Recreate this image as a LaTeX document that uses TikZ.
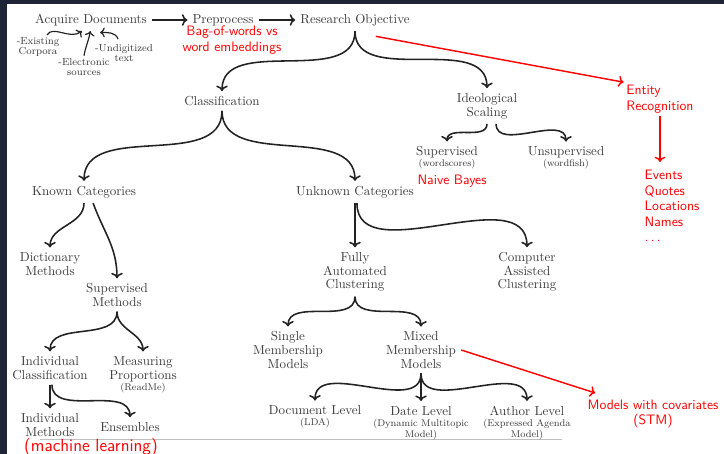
\documentclass[tikz,border=0pt]{standalone}
\usepackage{fontspec}
\usepackage{tikz}
\usetikzlibrary{positioning, arrows.meta, calc}

\definecolor{framenavy}{RGB}{31,36,55}
\definecolor{textgray}{RGB}{60,60,60}
\definecolor{arrowgray}{RGB}{35,35,35}
\definecolor{notered}{RGB}{255,0,0}

\newcommand{\subnote}{\fontsize{7.5}{9}\selectfont}

\begin{document}
\begin{tikzpicture}[
        x=0.027cm, y=0.027cm,
        % Define styles for the nodes
        topic/.style={text=textgray, align=center, inner sep=2pt, outer sep=2pt, font=\fontsize{10}{10.5}\selectfont},
        source_note/.style={topic, inner sep=1pt, outer sep=1pt, font=\fontsize{7.8}{7.8}\selectfont},
        red_note/.style={text=notered, inner sep=2pt, font=\sffamily\fontsize{10.5}{12}\selectfont},
        arrow/.style={->, line width=1.2pt, draw=arrowgray},
        thin_arrow/.style={->, line width=0.9pt, draw=arrowgray},
        red_arrow/.style={->, line width=1.1pt, draw=notered}
    ]

    % slide frame and footer rule
    \useasboundingbox (0,0) rectangle (724,-454);
    \fill[framenavy] (0,0) rectangle (724,-454);
    \fill[white] (7,-4) rectangle (724,-454);
    \draw[black!25, line width=0.6pt] (40,-439) -- (562,-439);

    % ==============================================
    % === TOP ROW (Acquire -> Objective) ===
    % ==============================================
    \node (acquire) [topic] at (91,-20) {Acquire Documents};
    \node (preprocess) [topic] at (223,-20) {Preprocess};
    \node (objective) [topic] at (355,-20) {Research Objective};
    \draw [arrow] (acquire) -- (preprocess);
    \draw [arrow] (preprocess) -- (objective);

    \node (bag_of_words) [red_note, align=center] at (232,-40) {Bag-of-words vs\\word embeddings};

    % Sources feeding the documents
    \node (existing) [source_note] at (38,-47) {-Existing\\Corpora};
    \node (electronic) [source_note] at (84,-67) {-Electronic\\sources};
    \node (undigitized) [source_note] at (124,-53) {-Undigitized\\text};
    \draw [thin_arrow] ([xshift=7pt]existing.north) .. controls +(6,10) and +(-12,-9) .. ([xshift=-7pt]acquire.south);
    \draw [thin_arrow] (electronic.north) to[out=80, in=-100] ([xshift=-0.5pt]acquire.south);
    \draw [thin_arrow] ([xshift=-4.5pt, yshift=2pt]undigitized.north) to[out=110, in=0] ([xshift=7pt, yshift=-1pt]acquire.south);

    % ==============================================
    % === SCALING AND ENTITY BRANCH ===
    % ==============================================
    \node (classification) [topic] at (222,-101) {Classification};
    \node (ideo_scaling) [topic] at (487,-106) {Ideological\\Scaling};
    \draw [arrow] (objective.south) to[out=-90, in=90] (classification.north);
    \draw [arrow] (objective.south) to[out=-90, in=90] (ideo_scaling.north);

    \node (supervised) [topic] at (447,-158) {Supervised\\[-2pt]{\subnote (wordscores)}};
    \node (unsupervised) [topic] at (566,-158) {Unsupervised\\[-2pt]{\subnote (wordfish)}};
    \draw [arrow] (ideo_scaling.south) to[out=-90, in=90] (supervised.north);
    \draw [arrow] ([xshift=7pt]ideo_scaling.south) to[out=-90, in=90] (unsupervised.north);
    \node (naive_bayes) [red_note] at (452,-181) {Naive Bayes};

    \node (entity) [red_note, align=left] at (660,-99) {Entity\\Recognition};
    \node (entity_types) [red_note, align=left] at (672,-206) {Events\\Quotes\\Locations\\Names\\.\,.\,.};
    \draw [red_arrow] ([xshift=16pt, yshift=-4pt]objective.south) -- (entity.north west);
    \draw [red_arrow, shorten >=4pt] (entity.south) -- (entity.south |- entity_types.north);

    \node (known) [topic] at (84,-192) {Known Categories};
    \node (unknown) [topic] at (355,-192) {Unknown Categories};
    \draw [arrow] (classification.south) to[out=-90, in=90] (known.north);
    \draw [arrow] (classification.south) to[out=-90, in=90] (unknown.north);

    % ==============================================
    % === LEFT COLUMN (Known Categories) ===
    % ==============================================
    \begin{scope}
        \node (dictionary) [topic] at (50,-264) {Dictionary\\Methods};
        \node (supervised_m) [topic] at (117,-295) {Supervised\\Methods};
        \draw [arrow] (known.south) to[out=-90, in=90] (dictionary.north);
        \draw [arrow] ([xshift=7pt]known.south) to[out=-70, in=90] (supervised_m.north);

        \node (indiv_class) [topic] at (50,-368) {Individual\\Classification};
        \node (measuring) [topic] at (143,-375) {Measuring\\Proportions\\[-1.5pt]{\subnote (ReadMe)}};
        \draw [arrow] (supervised_m.south) to[out=-90, in=90] (indiv_class.north);
        \draw [arrow] (supervised_m.south) to[out=-90, in=90] (measuring.north);

        \node (indiv_meth) [topic] at (50,-425) {Individual\\Methods};
        \node (ensembles) [topic] at (130,-427) {Ensembles};
        \draw [arrow] (indiv_class) -- (indiv_meth);
        \draw [arrow] ([xshift=1.5pt]indiv_class.south) to[out=-90, in=90] (ensembles.north);

        \node (machine_learning) [red_note, font=\sffamily\fontsize{13.5}{15}\selectfont] at (91,-447) {(machine learning)};
    \end{scope}

    % ==============================================
    % === RIGHT COLUMN (Unknown Categories) ===
    % ==============================================
    \begin{scope}
        \node (fully_auto) [topic] at (355,-272) {Fully\\Automated\\Clustering};
        \node (computer_assisted) [topic] at (527,-272) {Computer\\Assisted\\Clustering};
        \draw [arrow] (unknown) -- (fully_auto);
        \draw [arrow] ([xshift=1.5pt]unknown.south) to[out=-90, in=90] (computer_assisted.north);

        \node (single) [topic] at (288,-350) {Single\\Membership\\Models};
        \node (mixed) [topic] at (421,-350) {Mixed\\Membership\\Models};
        \draw [arrow] (fully_auto.south) to[out=-90, in=90] (single.north);
        \draw [arrow] (fully_auto.south) to[out=-90, in=90] (mixed.north);

        \node (doc_level) [topic] at (315,-417) {Document Level\\[-2pt]{\subnote (LDA)}};
        \node (date_level) [topic] at (421,-423) {Date Level\\[-2pt]{\subnote (Dynamic Multitopic}\\[-2pt]{\subnote Model)}};
        \node (author_level) [topic] at (527,-423) {Author Level\\[-2pt]{\subnote (Expressed Agenda}\\[-2pt]{\subnote Model)}};
        \draw [arrow] (mixed.south) to[out=-90, in=90] (doc_level.north);
        \draw [arrow] (mixed) -- (date_level);
        \draw [arrow] (mixed.south) to[out=-90, in=90] (author_level.north);

        % covariate models
        \node (models_cov) [red_note, align=center] at (653,-414) {Models with covariates\\(STM)};
        \draw [red_arrow] (mixed.east) -- ([xshift=8pt, yshift=3pt]models_cov.north west);
    \end{scope}

\end{tikzpicture}
\end{document}
